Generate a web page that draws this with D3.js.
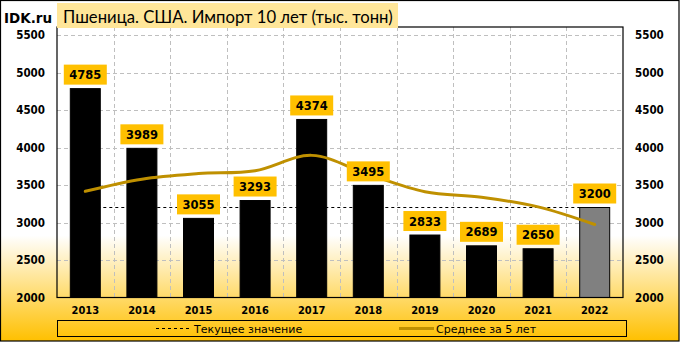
<!DOCTYPE html>
<html><head><meta charset="utf-8">
<script src="https://cdn.jsdelivr.net/npm/d3@7"></script>
<style>html,body{margin:0;padding:0;background:#fff}svg{display:block}</style>
</head><body>
<script>
const years = ['2013','2014','2015','2016','2017','2018','2019','2020','2021','2022'];
const values = [4785,3989,3055,3293,4374,3495,2833,2689,2650,3200];
const avg5 = [3416,3578,3652,3690,3895,3641,3410,3337,3208,2973];
const currentValue = 3200;
const yTicks = [2000,2500,3000,3500,4000,4500,5000,5500];
const titleText = 'Пшеница. США. Импорт 10 лет (тыс. тонн)';
const brand = 'IDK.ru';
const legendLabels = ['Текущее значение','Среднее за 5 лет'];

const W = 680, H = 342;
const L = 57, R = 623, T = 27, B = 297.5;
const svg = d3.select('body').append('svg').attr('width',W).attr('height',H);
const defs = svg.append('defs');
const g = defs.append('linearGradient').attr('id','bg').attr('x1',0).attr('y1',0).attr('x2',0).attr('y2',1);
g.append('stop').attr('offset',0).attr('stop-color','#fff');
g.append('stop').attr('offset',0.69).attr('stop-color','#fff');
g.append('stop').attr('offset',1).attr('stop-color','#FFC000');
svg.append('rect').attr('x',0.5).attr('y',0.5).attr('width',W-1.5).attr('height',H-1.5)
  .attr('fill','url(#bg)').attr('stroke','#000').attr('stroke-width',1.2);

const x = d3.scaleBand().domain(years).range([L,R]).padding(0);
const y = d3.scaleLinear().domain([2000,5500]).range([B,35]);
const bw = x.bandwidth()*0.53;
const cx = d => x(d)+x.bandwidth()/2;

// grid
const grid = svg.append('g').attr('stroke','#BFBFBF').attr('stroke-dasharray','4,3').attr('stroke-width',1);
yTicks.slice(1).forEach(t=>grid.append('line').attr('x1',L).attr('x2',R).attr('y1',Math.round(y(t))+0.5).attr('y2',Math.round(y(t))+0.5));
years.slice(1).forEach(yr=>grid.append('line').attr('x1',Math.round(x(yr))+0.5).attr('x2',Math.round(x(yr))+0.5).attr('y1',T).attr('y2',B));

// current value dashed line
svg.append('line').attr('x1',cx(years[0])).attr('x2',cx(years[years.length-1]))
  .attr('y1',y(currentValue)).attr('y2',y(currentValue))
  .attr('stroke','#000').attr('stroke-width',1).attr('stroke-dasharray','3,3');

// bars
svg.append('g').selectAll('rect').data(years).join('rect')
  .attr('x',d=>cx(d)-bw/2).attr('width',bw)
  .attr('y',(d,i)=>y(values[i])).attr('height',(d,i)=>B-y(values[i]))
  .attr('fill',(d,i)=>i===years.length-1?'#808080':'#000')
  .attr('stroke','#000').attr('stroke-width',1);

// plot border
svg.append('rect').attr('x',L).attr('y',T).attr('width',R-L).attr('height',B-T)
  .attr('fill','none').attr('stroke','#000').attr('stroke-width',1.2);

// avg line
const line = d3.line().x((d,i)=>cx(years[i])).y(d=>y(d)).curve(d3.curveCatmullRom.alpha(0.5));
svg.append('path').datum(avg5).attr('d',line).attr('fill','none')
  .attr('stroke','#BF9000').attr('stroke-width',3).attr('stroke-linecap','round');

// data labels
const lab = svg.append('g');
years.forEach((yr,i)=>{
  const top = y(values[i]);
  lab.append('rect').attr('x',cx(yr)-21.5).attr('y',top-24).attr('width',43).attr('height',20).attr('fill','#FFC000');
  lab.append('text').attr('x',cx(yr)).attr('y',top-9.5).attr('text-anchor','middle')
    .attr('font-family','DejaVu Sans').attr('font-weight','bold').attr('font-size','11.5px').attr('fill','#000')
    .text(values[i]);
});

// axes labels
const yl = svg.append('g').attr('font-family','DejaVu Sans Condensed, DejaVu Sans').attr('font-weight','bold').attr('font-size','11.5px');
yTicks.forEach(t=>{
  yl.append('text').attr('x',45).attr('y',y(t)+4).attr('text-anchor','end').text(t);
  yl.append('text').attr('x',635).attr('y',y(t)+4).attr('text-anchor','start').text(t);
});
const xl = svg.append('g').attr('font-family','DejaVu Sans Condensed, DejaVu Sans').attr('font-weight','bold').attr('font-size','11px');
years.forEach(yr=>xl.append('text').attr('x',cx(yr)).attr('y',314).attr('text-anchor','middle').text(yr));

// title
svg.append('text').attr('x',4).attr('y',23).attr('font-family','DejaVu Sans').attr('font-weight','bold')
  .attr('font-size','13.5px').text(brand);
svg.append('rect').attr('x',57).attr('y',3).attr('width',341).attr('height',25).attr('fill','#FFE699');
const tt = svg.append('text').attr('x',63).attr('y',23).attr('font-family','Lato').attr('font-size','18px').text(titleText);
const tw = tt.node().getComputedTextLength();
tt.attr('font-size',(18*330/tw).toFixed(2)+'px');

// legend
svg.append('rect').attr('x',57.5).attr('y',320.5).attr('width',569).attr('height',16).attr('fill','none').attr('stroke','#000').attr('stroke-width',1);
svg.append('line').attr('x1',156).attr('x2',189).attr('y1',328.5).attr('y2',328.5).attr('stroke','#000').attr('stroke-dasharray','3,3');
svg.append('line').attr('x1',399).attr('x2',434).attr('y1',328.5).attr('y2',328.5).attr('stroke','#BF9000').attr('stroke-width',3);
const lg = svg.append('g').attr('font-family','DejaVu Sans').attr('font-size','11px');
lg.append('text').attr('x',194).attr('y',332.5).text(legendLabels[0]);
lg.append('text').attr('x',436).attr('y',332.5).text(legendLabels[1]);
</script>
</body></html>
